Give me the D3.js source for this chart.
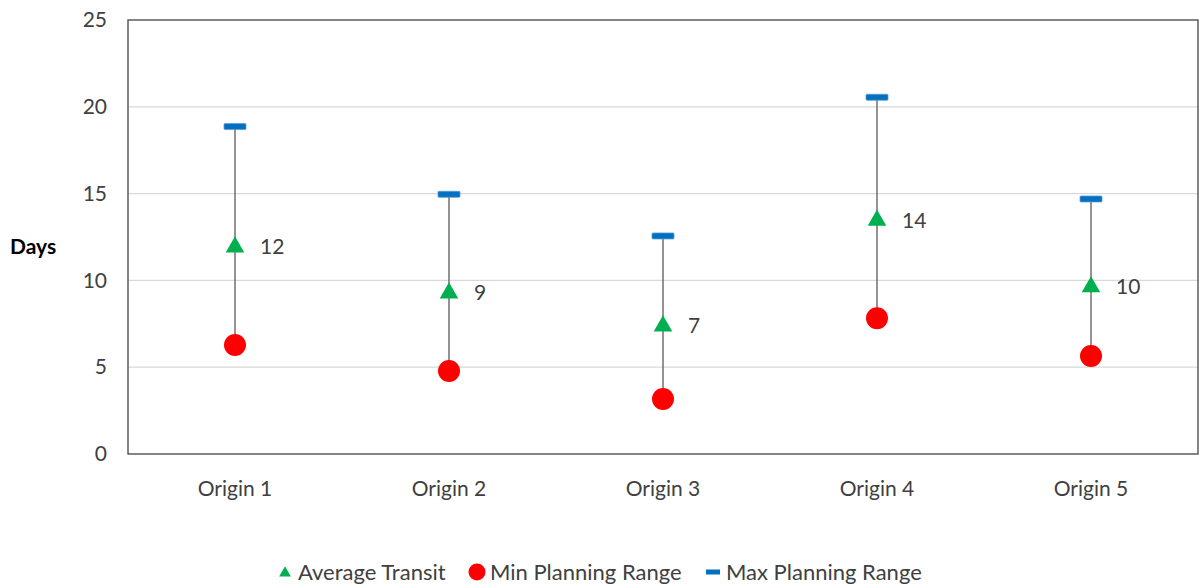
<!DOCTYPE html>
<html><head><meta charset="utf-8">
<script src="https://cdn.jsdelivr.net/npm/d3@7"></script>
<style>
html,body{margin:0;padding:0;background:#fff;}
svg text{font-family:Lato,"Open Sans",sans-serif;}
</style></head>
<body>
<svg id="chart" width="1199" height="584"></svg>
<script>
const categories = ["Origin 1","Origin 2","Origin 3","Origin 4","Origin 5"];
const avgTransit = [11.98, 9.33, 7.43, 13.52, 9.68];
const avgLabels = ["12","9","7","14","10"];
const minRange = [6.28, 4.78, 3.17, 7.82, 5.65];
const maxRange = [18.86, 14.96, 12.56, 20.55, 14.69];
const yTicks = [0,5,10,15,20,25];
const legendItems = ["Average Transit","Min Planning Range","Max Planning Range"];

const svg = d3.select("#chart");
const m = {left:128, right:1198, top:20, bottom:454};
const x = d3.scaleBand().domain(categories).range([m.left, m.right]);
const y = d3.scaleLinear().domain([0,25]).range([m.bottom, m.top]);
const cx = c => x(c) + x.bandwidth()/2;

// gridlines
svg.append("g").selectAll("line").data(yTicks.filter(t=>t>0 && t<25)).join("line")
  .attr("x1", m.left).attr("x2", m.right)
  .attr("y1", d=>y(d)).attr("y2", d=>y(d))
  .attr("stroke","#d9d9d9").attr("stroke-width",1.3);

// plot border
svg.append("rect").attr("x",m.left).attr("y",m.top)
  .attr("width",m.right-m.left).attr("height",m.bottom-m.top)
  .attr("fill","none").attr("stroke","#444").attr("stroke-width",1.3);

// y axis labels
const yAxis = d3.axisLeft(y).tickValues(yTicks).tickSize(0).tickPadding(21);
const gy = svg.append("g").attr("transform",`translate(${m.left},0)`).call(yAxis);
gy.select(".domain").remove();
gy.selectAll("text").attr("font-size",21).attr("fill","#404040").style("font-family","Lato");

// x axis labels
const xAxis = d3.axisBottom(x).tickSize(0).tickPadding(27);
const gx = svg.append("g").attr("transform",`translate(0,${m.bottom})`).call(xAxis);
gx.select(".domain").remove();
gx.selectAll("text").attr("font-size",21).attr("fill","#404040").style("font-family","Lato");

// y title
svg.append("text").attr("x",10).attr("y",247).attr("dy","0.35em")
  .attr("font-size",21).attr("font-weight","bold").attr("fill","#000").text("Days");

// connecting lines
svg.append("g").selectAll("line").data(categories).join("line")
  .attr("x1",cx).attr("x2",cx)
  .attr("y1",(d,i)=>y(minRange[i])).attr("y2",(d,i)=>y(maxRange[i]))
  .attr("stroke","#595959").attr("stroke-width",1.3);

// max markers
svg.append("g").selectAll("rect").data(categories).join("rect")
  .attr("x",d=>cx(d)-11).attr("y",(d,i)=>y(maxRange[i])-3)
  .attr("width",22).attr("height",6).attr("rx",1)
  .attr("fill","#0070C0").attr("stroke","#5b9bd5").attr("stroke-width",0.8);

// min markers
svg.append("g").selectAll("circle").data(categories).join("circle")
  .attr("cx",cx).attr("cy",(d,i)=>y(minRange[i])).attr("r",11)
  .attr("fill","#ff0000");

// avg markers
const tri = d3.symbol().type(d3.symbolTriangle).size(150);
svg.append("g").selectAll("path").data(categories).join("path")
  .attr("d", tri)
  .attr("transform",(d,i)=>`translate(${cx(d)},${y(avgTransit[i])+1})`)
  .attr("fill","#00b050");

// avg labels
svg.append("g").selectAll("text").data(categories).join("text")
  .attr("x",d=>cx(d)+25).attr("y",(d,i)=>y(avgTransit[i])+1).attr("dy","0.35em")
  .attr("font-size",21).attr("fill","#404040")
  .text((d,i)=>avgLabels[i]);

// legend
const lg = svg.append("g");
const ly = 572;
const legX = [285, 477, 713];
lg.append("path").attr("d", d3.symbol().type(d3.symbolTriangle).size(60))
  .attr("transform",`translate(${legX[0]},${ly+1})`).attr("fill","#00b050");
lg.append("circle").attr("cx",legX[1]).attr("cy",ly).attr("r",8.5).attr("fill","#ff0000");
lg.append("rect").attr("x",legX[2]-7).attr("y",ly-2.5).attr("width",14).attr("height",5)
  .attr("fill","#0070C0");
lg.selectAll("text").data(legendItems).join("text")
  .attr("x",(d,i)=>legX[i]+13).attr("y",ly).attr("dy","0.35em")
  .attr("font-size",22).attr("fill","#404040").text(d=>d);
</script>
</body></html>
